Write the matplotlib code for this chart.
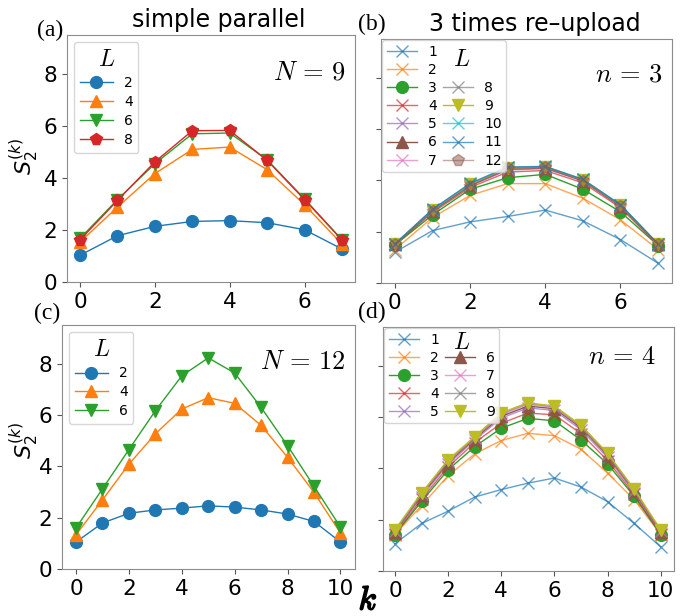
import numpy as np
import matplotlib.pyplot as plt
from matplotlib.lines import Line2D
import matplotlib.patheffects as pe

plt.rcParams['font.family'] = 'DejaVu Sans'
plt.rcParams['mathtext.fontset'] = 'cm'

# ---- data ----
k_a = np.arange(8)
k_c = np.arange(11)

# (a) simple parallel, N = 9
a_labels = ['2', '4', '6', '8']
a_L2 = [1.03, 1.78, 2.14, 2.33, 2.36, 2.28, 2.01, 1.27]
a_L4 = [1.54, 2.88, 4.17, 5.10, 5.19, 4.32, 2.97, 1.46]
a_L6 = [1.68, 3.17, 4.55, 5.70, 5.73, 4.70, 3.20, 1.62]
a_L8 = [1.62, 3.14, 4.62, 5.82, 5.83, 4.68, 3.17, 1.62]

# (b) 3 times re-upload, n = 3
b_labels = [str(i) for i in range(1, 13)]
b_vals = [
    [1.20, 2.04, 2.38, 2.59, 2.84, 2.42, 1.69, 0.77],
    [1.30, 2.55, 3.41, 3.87, 3.87, 3.30, 2.46, 1.30],
    [1.48, 2.65, 3.65, 4.10, 4.23, 3.65, 2.77, 1.46],
    [1.48, 2.75, 3.72, 4.32, 4.38, 3.90, 2.93, 1.47],
    [1.50, 2.80, 3.78, 4.40, 4.45, 3.97, 2.98, 1.50],
    [1.50, 2.82, 3.80, 4.43, 4.48, 3.99, 3.00, 1.50],
    [1.51, 2.83, 3.82, 4.45, 4.50, 4.00, 3.01, 1.51],
    [1.51, 2.84, 3.83, 4.46, 4.51, 4.01, 3.02, 1.51],
    [1.52, 2.85, 3.84, 4.47, 4.52, 4.02, 3.03, 1.52],
    [1.52, 2.86, 3.86, 4.50, 4.53, 4.03, 3.04, 1.52],
    [1.52, 2.87, 3.88, 4.52, 4.54, 4.04, 3.05, 1.52],
    [1.50, 2.79, 3.78, 4.46, 4.50, 3.98, 2.99, 1.51],
]

# (c) simple parallel, N = 12
c_labels = ['2', '4', '6']
c_L2 = [1.05, 1.79, 2.17, 2.30, 2.37, 2.46, 2.41, 2.30, 2.14, 1.85, 1.05]
c_L4 = [1.33, 2.69, 4.08, 5.26, 6.23, 6.67, 6.45, 5.59, 4.35, 2.98, 1.40]
c_L6 = [1.60, 3.12, 4.65, 6.16, 7.52, 8.22, 7.63, 6.29, 4.80, 3.22, 1.63]

# (d) re-upload, n = 4
d_labels = [str(i) for i in range(1, 10)]
d_vals = [
    [1.06, 1.85, 2.33, 2.88, 3.17, 3.42, 3.62, 3.27, 2.70, 1.85, 0.94],
    [1.42, 2.55, 3.71, 4.56, 5.08, 5.36, 5.27, 4.74, 3.81, 2.78, 1.42],
    [1.42, 2.71, 3.94, 4.84, 5.56, 5.94, 5.85, 5.10, 4.17, 2.91, 1.42],
    [1.45, 2.80, 4.05, 5.00, 5.75, 6.15, 6.08, 5.35, 4.30, 2.98, 1.45],
    [1.50, 2.90, 4.15, 5.10, 5.95, 6.35, 6.25, 5.50, 4.42, 3.05, 1.50],
    [1.52, 2.95, 4.22, 5.15, 6.02, 6.42, 6.32, 5.58, 4.50, 3.10, 1.52],
    [1.55, 2.98, 4.27, 5.18, 6.08, 6.48, 6.37, 5.62, 4.54, 3.13, 1.55],
    [1.58, 3.00, 4.30, 5.20, 6.12, 6.52, 6.40, 5.65, 4.56, 3.16, 1.58],
    [1.61, 3.04, 4.33, 5.23, 6.16, 6.55, 6.42, 5.68, 4.59, 3.19, 1.61],
]

tab = plt.rcParams['axes.prop_cycle'].by_key()['color']
re_markers = ['x', 'x', 'o', 'x', 'x', '^', 'x', 'x', 'v', 'x', 'x', 'p']
re_colors = tab[:10] + [tab[0], tab[5]]
re_alpha = [0.7, 0.7, 1, 0.7, 0.7, 1, 0.7, 0.7, 1, 0.7, 0.7, 0.5]

W, H = 690, 616
fig = plt.figure(figsize=(W / 100, H / 100), dpi=100)


def box(x0, y0, x1, y1):
    # pixel box (top-left origin) -> figure fraction rect
    return [x0 / W, 1 - y1 / H, (x1 - x0) / W, (y1 - y0) / H]


ax_a = fig.add_axes(box(67, 35, 355, 282))
ax_b = fig.add_axes(box(381, 39, 672, 283))
ax_c = fig.add_axes(box(62, 325, 355, 569))
ax_d = fig.add_axes(box(383, 327, 674, 571))

for ax in (ax_a, ax_b, ax_c, ax_d):
    for s in ax.spines.values():
        s.set_color('#8c8c8c')
    ax.tick_params(labelsize=15.5, color='#555555', length=3.5)
    ax.set_ylim(0, 9.5)
    ax.set_yticks([0, 2, 4, 6, 8])
ax_b.tick_params(labelleft=False)
ax_d.tick_params(labelleft=False)

ax_a.set_xlim(-0.35, 7.35)
ax_b.set_xlim(-0.37, 7.37)
ax_c.set_xlim(-0.53, 10.55)
ax_d.set_xlim(-0.45, 10.5)
ax_a.set_xticks([0, 2, 4, 6])
ax_b.set_xticks([0, 2, 4, 6])
ax_c.set_xticks([0, 2, 4, 6, 8, 10])
ax_d.set_xticks([0, 2, 4, 6, 8, 10])

# ---- simple parallel panels ----
sp_markers = ['o', '^', 'v', 'p']
for ys, lab, m, col in zip([a_L2, a_L4, a_L6, a_L8], a_labels, sp_markers, tab):
    ax_a.plot(k_a, ys, marker=m, color=col, ms=8.5, lw=1, label=lab)
for ys, lab, m, col in zip([c_L2, c_L4, c_L6], c_labels, sp_markers, tab):
    ax_c.plot(k_c, ys, marker=m, color=col, ms=8.5, lw=1, label=lab)

for ax in (ax_a, ax_c):
    leg = ax.legend(title='$L$', fontsize=10, labelspacing=0.35,
                    handlelength=2.4, loc='upper left', borderpad=0.4)
    leg.get_title().set_fontsize(17)
    leg.get_frame().set_edgecolor('#cccccc')

# ---- re-upload panels ----
b_lines = []
for i, ys in enumerate(b_vals):
    ms = 8 if re_markers[i] == 'x' else 8.5
    ln, = ax_b.plot(k_a, ys, marker=re_markers[i], color=re_colors[i],
                    alpha=re_alpha[i], ms=ms, lw=1, label=b_labels[i])
    b_lines.append(ln)
d_lines = []
for i, ys in enumerate(d_vals):
    ms = 8 if re_markers[i] == 'x' else 8.5
    ln, = ax_d.plot(k_c, ys, marker=re_markers[i], color=re_colors[i],
                    alpha=re_alpha[i], ms=ms, lw=1, label=d_labels[i])
    d_lines.append(ln)

# second legend column starts with empty slots where the L heading sits
blank = Line2D([], [], linestyle='none')
hb = b_lines[:7] + [blank, blank] + b_lines[7:]
lb = b_labels[:7] + ['', ''] + b_labels[7:]
hd = d_lines[:5] + [blank] + d_lines[5:]
ld = d_labels[:5] + ['0'] + d_labels[5:]
for ax, h, l in ((ax_b, hb, lb), (ax_d, hd, ld)):
    leg = ax.legend(h, l, ncol=2, fontsize=10, labelspacing=0.3,
                    columnspacing=0.4, handlelength=2.2, handletextpad=0.8,
                    loc='upper left', borderaxespad=0.1, borderpad=0.3)
    leg.get_frame().set_edgecolor('#cccccc')
    for t in leg.get_texts():
        if t.get_text() == '0':
            t.set_color('none')

fig.text(462 / W, 1 - 59 / H, '$L$', fontsize=17, ha='center', va='center')
fig.text(462 / W, 1 - 342 / H, '$L$', fontsize=17, ha='center', va='center')

# ---- annotations ----
fig.text(346 / W, 1 - 72 / H, '$N\\,=\\,9$', fontsize=19, ha='right', va='center')
fig.text(662 / W, 1 - 75 / H, '$n\\,=\\,3$', fontsize=19, ha='right', va='center')
fig.text(346 / W, 1 - 362 / H, '$N\\,=\\,12$', fontsize=19, ha='right', va='center')
fig.text(656 / W, 1 - 357 / H, '$n\\,=\\,4$', fontsize=19, ha='right', va='center')

fig.text(219 / W, 1 - 20 / H, 'simple parallel', fontsize=17, ha='center', va='center')
fig.text(535 / W, 1 - 24 / H, '3 times re\u2013upload', fontsize=17, ha='center', va='center')

for x, y, t in ((50, 30, '(a)'), (372, 24, '(b)'), (47, 313, '(c)'), (372, 312, '(d)')):
    fig.text(x / W, 1 - y / H, t, fontsize=17, family='Liberation Serif',
             ha='center', va='center')

for y in (156, 440):
    fig.text(24 / W, 1 - y / H, '$S_2^{(k)}$', fontsize=16, rotation=90,
             ha='center', va='center', math_fontfamily='dejavusans')

kl = fig.text(368 / W, 1 - 600 / H, '$k$', fontsize=24, ha='center', va='center')
kl.set_path_effects([pe.withStroke(linewidth=1.2, foreground='black')])

fig.savefig('out.png', dpi=100)
